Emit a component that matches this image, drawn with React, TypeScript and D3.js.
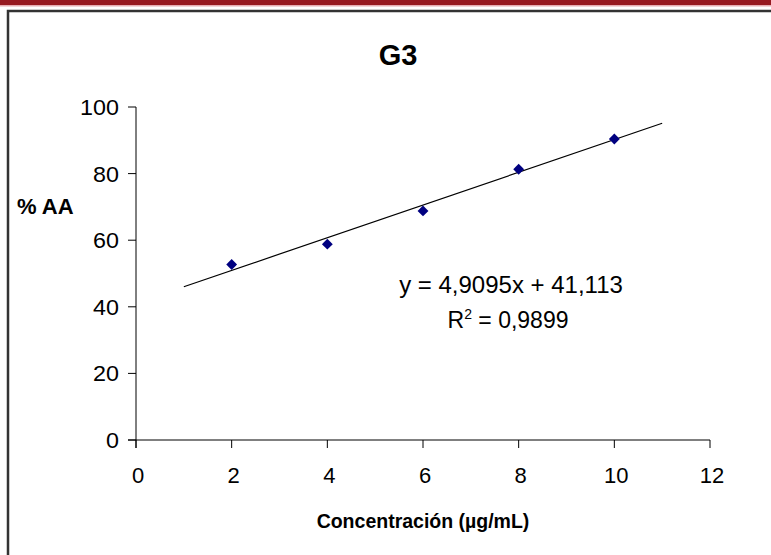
import React from "react";
import * as d3 from "d3";

// Measured activity (% AA) at each concentration (µg/mL)
const concentrations = [2, 4, 6, 8, 10];
const activity = [52.7, 58.8, 68.8, 81.3, 90.4];

// Linear trendline coefficients and its fit
const slope = 4.9095;
const intercept = 41.113;
const trendRange = [1, 11];
const equationLabel = "y = 4,9095x + 41,113";
const r2Value = "0,9899";

const xTicks = [0, 2, 4, 6, 8, 10, 12];
const yTicks = [0, 20, 40, 60, 80, 100];

const title = "G3";
const xTitle = "Concentración (µg/mL)";
const yTitle = "% AA";

const W = 771;
const H = 555;
const font = "'Liberation Sans', Arial, sans-serif";

export default function App() {
  const x = d3.scaleLinear().domain([0, 12]).range([136, 710]);
  const y = d3.scaleLinear().domain([0, 100]).range([440, 107]);

  const trend = d3
    .line<number>()
    .x((d) => x(d))
    .y((d) => y(slope * d + intercept))(trendRange);

  const diamond = d3.symbol().type(d3.symbolDiamond2).size(75)();

  return (
    <svg
      width={W}
      height={H}
      style={{ position: "absolute", left: 0, top: 0, background: "#fff" }}
      fontFamily={font}
    >
      {/* banner strip */}
      <rect x={0} y={0} width={W} height={5} fill="#971a21" />
      <rect x={0} y={5} width={W} height={1.5} fill="#e6aeb3" />

      {/* outer frame */}
      <path d={`M8,${H} V11 H${W}`} fill="none" stroke="#333" strokeWidth={2.5} />

      <text x={398} y={65} textAnchor="middle" fontWeight="bold" fontSize={29}>
        {title}
      </text>

      {/* y axis */}
      <line x1={x(0)} x2={x(0)} y1={y(100)} y2={y(0) + 8} stroke="#000" strokeWidth={1} />
      {yTicks.map((t) => (
        <g key={`y${t}`}>
          <line x1={x(0) - 8} x2={x(0)} y1={y(t)} y2={y(t)} stroke="#000" />
          <text x={119} y={y(t) + 8} textAnchor="end" fontSize={22} transform={`translate(119,0) scale(1.06,1) translate(-119,0)`}>
            {t}
          </text>
        </g>
      ))}

      {/* x axis */}
      <line x1={x(0) - 8} x2={x(12)} y1={y(0)} y2={y(0)} stroke="#000" strokeWidth={1} />
      {xTicks.map((t) => (
        <g key={`x${t}`}>
          <line x1={x(t)} x2={x(t)} y1={y(0)} y2={y(0) + 8} stroke="#000" />
          <text x={x(t) + 2} y={483} textAnchor="middle" fontSize={22}>
            {t}
          </text>
        </g>
      ))}

      <text x={17} y={214} fontWeight="bold" fontSize={22}>
        {yTitle}
      </text>
      <text x={423} y={528} textAnchor="middle" fontWeight="bold" fontSize={19.5}>
        {xTitle}
      </text>

      {/* trendline */}
      <path d={trend ?? ""} fill="none" stroke="#000" strokeWidth={1.2} />

      {/* data points */}
      {concentrations.map((c, i) => (
        <path
          key={c}
          d={diamond ?? ""}
          transform={`translate(${x(c)},${y(activity[i])})`}
          fill="#000080"
        />
      ))}

      {/* equation and R² */}
      <text x={511} y={293} textAnchor="middle" fontSize={24}>
        {equationLabel}
      </text>
      <text x={508} y={328} textAnchor="middle" fontSize={23}>
        <tspan>R</tspan>
        <tspan dy={-9} fontSize={14}>
          2
        </tspan>
        <tspan dy={9}>{` = ${r2Value}`}</tspan>
      </text>
    </svg>
  );
}
